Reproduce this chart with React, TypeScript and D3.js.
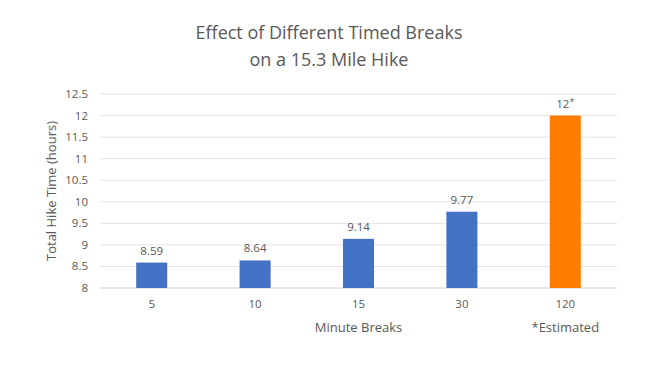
import React from "react";
import * as d3 from "d3";

const categories = ["5", "10", "15", "30", "120"];
const values = [8.59, 8.64, 9.14, 9.77, 12];
const valueLabels = ["8.59", "8.64", "9.14", "9.77", "12"];
const estimated = [false, false, false, false, true];
const yTicks = [8, 8.5, 9, 9.5, 10, 10.5, 11, 11.5, 12, 12.5];

const W = 667;
const H = 377;
const left = 100;
const right = 617;
const top = 94;
const bottom = 288;
const font = "'Open Sans', 'Noto Sans', sans-serif";
const gray = "#595959";

export default function App() {
  const x = d3.scaleBand<string>().domain(categories).range([left, right]).paddingInner(0.7).paddingOuter(0.35);
  const y = d3.scaleLinear().domain([8, 12.5]).range([bottom, top]);
  return (
    <svg width={W} height={H} style={{ position: "absolute", left: 0, top: 0, background: "#fff" }} fontFamily={font}>
      <rect width={W} height={H} fill="#fff" />
      <text x={329} y={39} textAnchor="middle" fontSize={18} fill={gray}>Effect of Different Timed Breaks</text>
      <text x={329} y={66} textAnchor="middle" fontSize={18} fill={gray}>on a 15.3 Mile Hike</text>
      {yTicks.map((t) => (
        <g key={t}>
          <line x1={left} x2={right} y1={y(t)} y2={y(t)} stroke={t === 8 ? "#d0d0d0" : "#e3e3e3"} strokeWidth={1} />
          <text x={88} y={y(t)} dy="0.35em" textAnchor="end" fontSize={11.5} fill={gray}>{t}</text>
        </g>
      ))}
      {categories.map((c, i) => {
        const bx = x(c)!;
        const bw = x.bandwidth();
        const cx = bx + bw / 2;
        return (
          <g key={c}>
            <rect x={bx} y={y(values[i])} width={bw} height={y(8) - y(values[i])} fill={estimated[i] ? "#FF7C00" : "#4472C4"} />
            <text x={cx} y={y(values[i]) - 8} textAnchor="middle" fontSize={11.5} fill={gray}>
              {valueLabels[i]}
              {estimated[i] ? <tspan dy={-3} fontSize={9}>*</tspan> : null}
            </text>
            <text x={cx} y={308} textAnchor="middle" fontSize={11.5} fill={gray}>{c}</text>
          </g>
        );
      })}
      <text x={(left + right) / 2} y={332} textAnchor="middle" fontSize={13} fill={gray}>Minute Breaks</text>
      <text x={x("120")! + x.bandwidth() / 2} y={332} textAnchor="middle" fontSize={13} fill={gray}>*Estimated</text>
      <text transform={`translate(56,${(top + bottom) / 2}) rotate(-90)`} textAnchor="middle" fontSize={13} fill={gray}>Total Hike Time (hours)</text>
    </svg>
  );
}
